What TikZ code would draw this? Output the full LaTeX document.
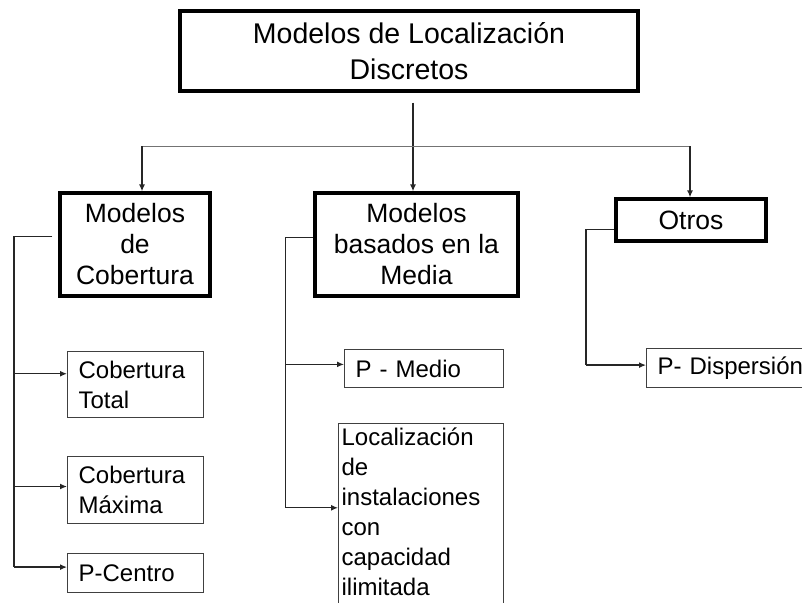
\documentclass[tikz,border=0pt]{standalone}
\usepackage{fontspec}
\setmainfont{Liberation Sans}
\usetikzlibrary{arrows.meta}

\begin{document}
\begin{tikzpicture}[x=1pt, y=-1pt,
topbox/.style={rectangle, draw=black, line width=4pt, minimum width=458pt, minimum height=79pt, align=center, font=\fontsize{28.5pt}{36pt}\selectfont},
mainbox/.style={rectangle, draw=black, line width=3.3pt, align=center, font=\fontsize{26.5pt}{31pt}\selectfont},
leafbox/.style={rectangle, draw=black!75, line width=1.2pt, anchor=north west, align=left, inner xsep=11pt, font=\fontsize{24pt}{30pt}\selectfont},
link/.style={draw=black!85, line width=1.3pt},
arr/.style={link, -{Latex[length=7pt,width=6pt]}},
bus/.style={draw=black!55, line width=1pt},
]
\useasboundingbox (0,0) rectangle (802,602);
\clip (0,0) rectangle (802,602);

%Nodes
\node[topbox]  (top) at (409,51)    {Modelos de Localización\\Discretos};
\node[mainbox, minimum width=150pt, minimum height=103pt] (cob) at (135,244.5) {Modelos\\de\\Cobertura};
\node[mainbox, minimum width=203pt, minimum height=103pt] (med) at (416.5,244.5) {Modelos\\basados en la\\Media};
\node[mainbox, minimum width=150pt, minimum height=42pt]  (otr) at (691,220) {Otros};

\node[leafbox, text width=114pt, minimum height=66pt] (ctot) at (67,351) {Cobertura\\Total};
\node[leafbox, text width=114pt, minimum height=67pt] (cmax) at (67,456) {Cobertura\\Máxima};
\node[leafbox, text width=114pt, minimum height=39pt] (pcen) at (67,553) {P-Centro};
\node[leafbox, text width=137pt, minimum height=38pt] (pmed) at (344,349) {P - Medio};
\node[leafbox, text width=159pt, inner xsep=3pt, inner ysep=4pt, text depth=172pt] (loc) at (338,423)
  {Localización\\de\\instalaciones\\con\\capacidad\\ilimitada};
\node[leafbox, text width=148pt, minimum height=39pt] (pdis) at (646,348) {P- Dispersión};

%Coordinates
\coordinate (bl) at (142,146);
\coordinate (bm) at (413,146);
\coordinate (br) at (690,146);
\coordinate (cl) at (14,0);
\coordinate (ml) at (285.5,0);
\coordinate (ol) at (586,0);

%Lines
\draw[arr] (top.south -| bm) ++(0,10) -- (bm |- med.north);
\draw[bus] (bl) -- (br);
\draw[arr] (bl) -- (bl |- cob.north);
\draw[arr] (br) -- (br |- otr.north);

\draw[link, shorten <=6pt] (cob.174) -- (cob.174 -| cl) -- (cl |- pcen.175);
\draw[arr] (cl |- ctot.171) -- (ctot.171);
\draw[arr] (cl |- cmax.177) -- (cmax.177);
\draw[arr] (cl |- pcen.175) -- (pcen.175);

\draw[link] (med.176) -- (med.176 -| ml) -- (ml |- loc.170);
\draw[arr] (ml |- pmed.177) -- (pmed.177);
\draw[arr] (ml |- loc.170) -- (loc.170);

\draw[link] (otr.187) -- (otr.187 -| ol) -- (ol |- pdis.178);
\draw[arr] (ol |- pdis.178) -- (pdis.178);
\end{tikzpicture}
\end{document}
